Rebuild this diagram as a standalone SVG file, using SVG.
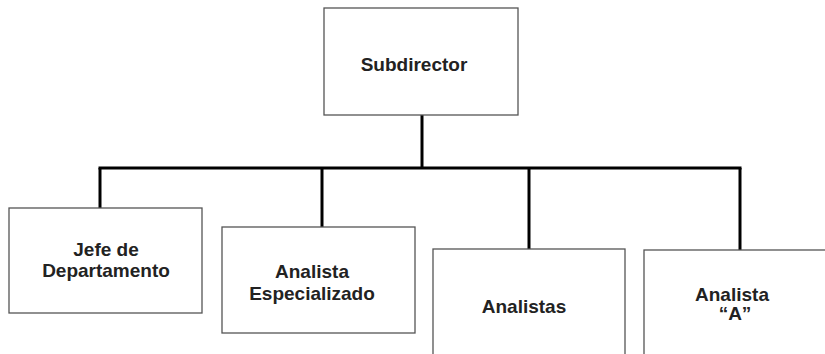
<svg xmlns="http://www.w3.org/2000/svg" width="825" height="354" viewBox="0 0 825 354">
<style>
.box{fill:#fff;stroke:#555;stroke-width:1.3}
.lbl{font-family:"Liberation Sans",Arial,sans-serif;font-weight:bold;font-size:19px;fill:#222;text-anchor:middle}
.conn{stroke:#000;stroke-width:3;fill:none}
</style>
<rect width="825" height="354" fill="#fff"/>
<g id="connectors">
<line class="conn" x1="422" y1="115" x2="422" y2="168"/>
<line class="conn" x1="98.5" y1="168" x2="741.5" y2="168"/>
<line class="conn" x1="100" y1="168" x2="100" y2="208"/>
<line class="conn" x1="322" y1="168" x2="322" y2="227"/>
<line class="conn" x1="529" y1="168" x2="529" y2="249"/>
<line class="conn" x1="740" y1="168" x2="740" y2="250"/>
</g>
<g id="subdirector">
<rect class="box" x="324" y="8" width="194" height="107"/>
<text class="lbl" x="414" y="71">Subdirector</text>
</g>
<g id="jefe">
<rect class="box" x="9" y="208" width="193" height="105"/>
<text class="lbl" x="106" y="256">Jefe de</text>
<text class="lbl" x="106" y="277">Departamento</text>
</g>
<g id="especializado">
<rect class="box" x="222" y="227" width="193" height="106"/>
<text class="lbl" x="312" y="278">Analista</text>
<text class="lbl" x="312" y="300">Especializado</text>
</g>
<g id="analistas">
<rect class="box" x="433" y="249" width="192" height="115"/>
<text class="lbl" x="524" y="313">Analistas</text>
</g>
<g id="analistaA">
<rect class="box" x="644" y="250" width="190" height="115"/>
<text class="lbl" x="732" y="301">Analista</text>
<text class="lbl" x="735" y="320">“A”</text>
</g>
</svg>
